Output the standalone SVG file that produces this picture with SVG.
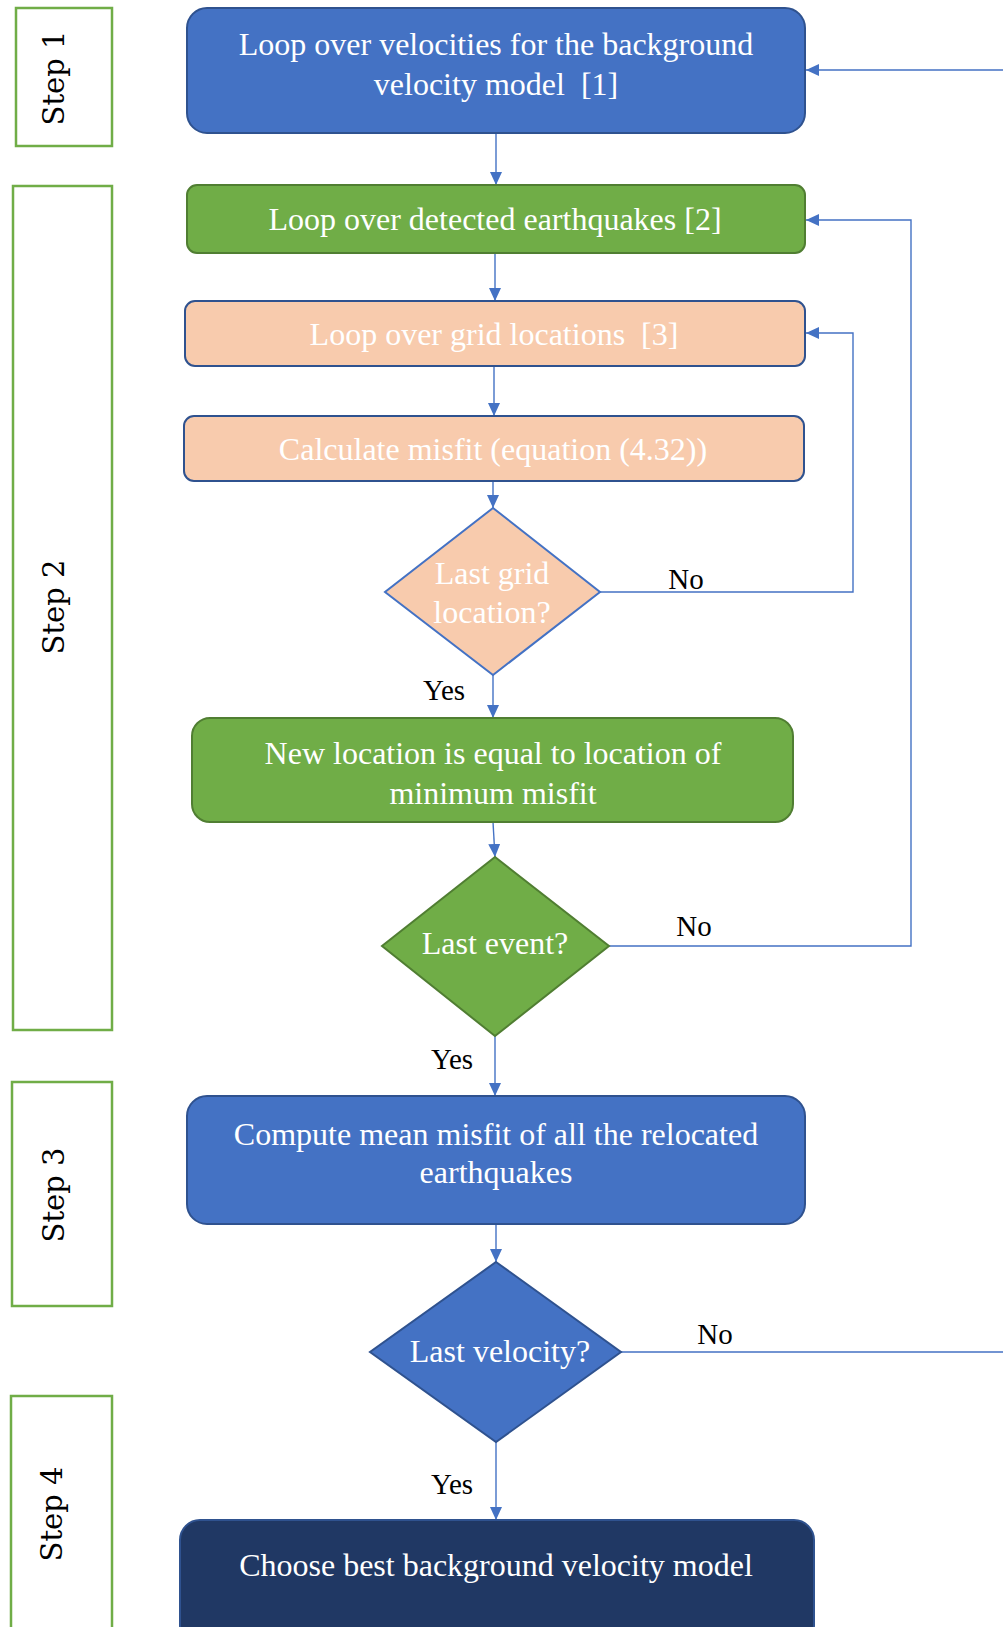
<svg xmlns="http://www.w3.org/2000/svg" width="1003" height="1627" viewBox="0 0 1003 1627">
<defs>
<marker id="ah" viewBox="0 0 13 12" refX="13" refY="6" markerWidth="13" markerHeight="12" markerUnits="userSpaceOnUse" orient="auto">
<path d="M0,0 L13,6 L0,12 Z" fill="#4472C4"/>
</marker>
</defs>
<style>
.t{font-family:"Liberation Serif","Times New Roman",serif;font-size:32px;fill:#ffffff;text-anchor:middle;white-space:pre}
.lab{font-family:"Liberation Serif","Times New Roman",serif;font-size:29px;fill:#000000;text-anchor:middle}
.step{font-family:"DejaVu Serif",serif;font-size:29px;fill:#000000;text-anchor:middle}
.sbox{fill:#ffffff;stroke:#70AD47;stroke-width:2.5}
.blue{fill:#4472C4;stroke:#2F528F;stroke-width:2}
.green{fill:#70AD47;stroke:#507E32;stroke-width:2}
.peach{fill:#F8CBAD;stroke:#2F528F;stroke-width:2}
.dark{fill:#203864;stroke:#2F528F;stroke-width:2}
.c{fill:none;stroke:#4472C4;stroke-width:1.4;marker-end:url(#ah)}
</style>
<rect width="1003" height="1627" fill="#ffffff"/>
<g id="step1"><rect class="sbox" x="16" y="8" width="96" height="138"/><text class="step" transform="translate(54,78) rotate(-90)" y="10">Step 1</text></g>
<g id="step2"><rect class="sbox" x="13" y="186" width="99" height="844"/><text class="step" transform="translate(54,607) rotate(-90)" y="10">Step 2</text></g>
<g id="step3"><rect class="sbox" x="12" y="1082" width="100" height="224"/><text class="step" transform="translate(54,1195) rotate(-90)" y="10">Step 3</text></g>
<g id="step4"><rect class="sbox" x="11" y="1396" width="101" height="245"/><text class="step" transform="translate(52,1514) rotate(-90)" y="10">Step 4</text></g>
<g id="connectors">
<path class="c" d="M496,133 L496,185"/>
<path class="c" d="M495,253 L495,301"/>
<path class="c" d="M494,366 L494,416"/>
<path class="c" d="M493,481 L493,508"/>
<path class="c" d="M600,592 L853,592 L853,333 L806,333"/>
<path class="c" d="M493,675 L493,718"/>
<path class="c" d="M493,822 L495,857"/>
<path class="c" d="M609,946 L911,946 L911,220 L806,220"/>
<path class="c" d="M495,1036 L495,1096"/>
<path class="c" d="M496,1224 L496,1262"/>
<path class="c" d="M621,1352 L1010,1352 L1010,70 L806,70"/>
<path class="c" d="M496,1442 L496,1520"/>
</g>
<g id="n1"><rect class="blue" x="187" y="8" width="618" height="125" rx="20"/><text class="t" x="496" y="55">Loop over velocities for the background</text><text class="t" x="496" y="95">velocity model  [1]</text></g>
<g id="n2"><rect class="green" x="187" y="185" width="618" height="68" rx="10"/><text class="t" x="495" y="230">Loop over detected earthquakes [2]</text></g>
<g id="n3"><rect class="peach" x="185" y="301" width="620" height="65" rx="10"/><text class="t" x="494" y="345">Loop over grid locations  [3]</text></g>
<g id="n4"><rect class="peach" x="184" y="416" width="620" height="65" rx="10"/><text class="t" x="493" y="460">Calculate misfit (equation (4.32))</text></g>
<g id="n5"><polygon points="493,508 600,592 493,675 385,592" fill="#F8CBAD" stroke="#4472C4" stroke-width="2"/><text class="t" x="492" y="584">Last grid</text><text class="t" x="492" y="623">location?</text></g>
<g id="n6"><rect class="green" x="192" y="718" width="601" height="104" rx="18"/><text class="t" x="493" y="764">New location is equal to location of</text><text class="t" x="493" y="804">minimum misfit</text></g>
<g id="n7"><polygon points="495,857 609,946 495,1036 382,946" fill="#70AD47" stroke="#507E32" stroke-width="2"/><text class="t" x="495" y="954">Last event?</text></g>
<g id="n8"><rect class="blue" x="187" y="1096" width="618" height="128" rx="20"/><text class="t" x="496" y="1145">Compute mean misfit of all the relocated</text><text class="t" x="496" y="1183">earthquakes</text></g>
<g id="n9"><polygon points="496,1262 621,1352 496,1442 370,1352" fill="#4472C4" stroke="#2F528F" stroke-width="2"/><text class="t" x="500" y="1362">Last velocity?</text></g>
<g id="n10"><rect class="dark" x="180" y="1520" width="634" height="125" rx="20"/><text class="t" x="496" y="1576">Choose best background velocity model</text></g>
<g id="labels">
<text class="lab" x="686" y="589">No</text>
<text class="lab" x="444" y="700">Yes</text>
<text class="lab" x="694" y="936">No</text>
<text class="lab" x="452" y="1069">Yes</text>
<text class="lab" x="715" y="1344">No</text>
<text class="lab" x="452" y="1494">Yes</text>
</g>
</svg>
